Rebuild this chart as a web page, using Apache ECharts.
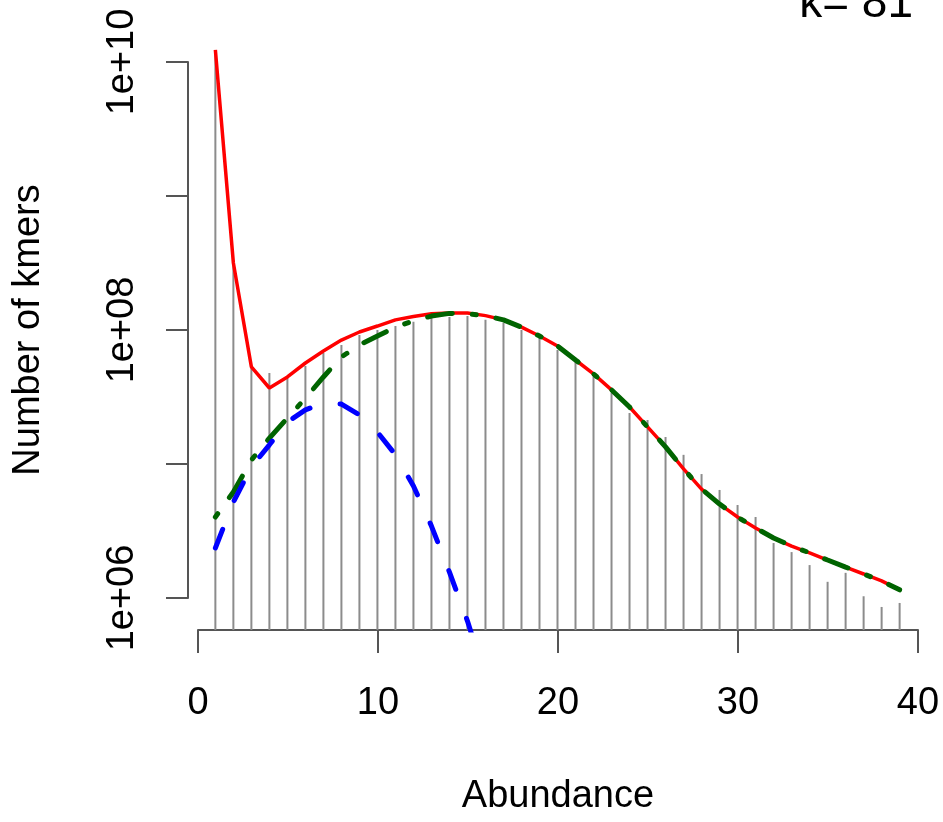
<!DOCTYPE html>
<html><head><meta charset="utf-8">
<script src="https://cdn.jsdelivr.net/npm/echarts@6/dist/echarts.min.js"></script>
<style>html,body{margin:0;padding:0;background:#fff}#c{width:943px;height:822px}</style>
</head><body><div id="c"></div>
<script>
// Abundance values (x)
const abundance = [1,2,3,4,5,6,7,8,9,10,11,12,13,14,15,16,17,18,19,20,21,22,23,24,25,26,27,28,29,30,31,32,33,34,35,36,37,38,39];
// Observed k-mer counts (grey spikes)
const kmerCounts = [1.23e10,3.33e8,5.30e7,4.78e7,4.46e7,5.38e7,6.73e7,7.73e7,9.18e7,1.00e8,1.07e8,1.15e8,1.23e8,1.25e8,1.27e8,1.19e8,1.13e8,1.00e8,8.71e7,7.10e7,5.77e7,4.46e7,3.39e7,2.40e7,2.13e7,1.59e7,1.17e7,8.41e6,6.40e6,4.94e6,4.02e6,2.57e6,2.20e6,1.76e6,1.32e6,1.54e6,1.03e6,8.57e5,9.18e5];
// Full model fit (red)
const fitTotal = [1.23e10,3.16e8,5.30e7,3.69e7,4.46e7,5.67e7,6.97e7,8.41e7,9.66e7,1.07e8,1.19e8,1.26e8,1.32e8,1.34e8,1.34e8,1.28e8,1.19e8,1.05e8,9.02e7,7.60e7,5.97e7,4.70e7,3.57e7,2.66e7,1.89e7,1.34e7,9.18e6,6.50e6,5.02e6,4.02e6,3.33e6,2.80e6,2.44e6,2.17e6,1.92e6,1.70e6,1.51e6,1.34e6,1.15e6];
// Second peak component (green, dash-dot)
const fitPeak2 = [4.02e6,6.18e6,1.07e7,1.56e7,2.20e7,3.10e7,4.46e7,6.29e7,7.73e7,9.02e7,1.05e8,1.17e8,1.27e8,1.33e8,1.32e8,1.28e8,1.19e8,1.05e8,9.02e7,7.60e7,5.97e7,4.70e7,3.57e7,2.66e7,1.89e7,1.34e7,9.18e6,6.50e6,5.02e6,4.02e6,3.33e6,2.80e6,2.44e6,2.17e6,1.92e6,1.70e6,1.51e6,1.34e6,1.15e6];
// First peak component (blue, dashed)
const peak1X = [1,2,3,4,5,6,7,8,9,10,11,12,13,14,15,16];
const fitPeak1 = [2.36e6,5.20e6,9.50e6,1.39e7,2.06e7,2.53e7,2.85e7,2.80e7,2.32e7,1.73e7,1.17e7,6.85e6,3.44e6,1.56e6,6.73e5,2.53e5];
// Axis ticks
const xTicks = [0,10,20,30,40];
const yTickExponents = [6,7,8,9,10];

const FONT = 'Liberation Sans';
const FS = 38;
const pairs = (xs, ys) => xs.map((x, i) => [x, ys[i]]);

const chart = echarts.init(document.getElementById('c'), null, {renderer: 'canvas'});
const axisCol = '#555';

chart.setOption({
  animation: false,
  backgroundColor: '#fff',
  title: {
    text: 'k= 81', right: 25, top: -24,
    textStyle: {fontFamily: FONT, fontSize: 46, fontWeight: 'normal', color: '#000'}
  },
  grid: [
    {left: 188, top: 27, width: 739, height: 603},
    {left: 198, top: 27, width: 720, height: 603},
    {left: 188, top: 62, width: 739, height: 536}
  ],
  xAxis: [
    {gridIndex: 0, type: 'value', min: -0.52, max: 40.52, show: false},
    {gridIndex: 1, type: 'value', min: xTicks[0], max: xTicks[xTicks.length - 1], interval: 10,
     axisLine: {onZero: false, lineStyle: {color: axisCol, width: 2}},
     axisTick: {length: 23, lineStyle: {color: axisCol, width: 2}},
     splitLine: {show: false},
     axisLabel: {fontFamily: FONT, fontSize: FS, color: '#000', margin: 55},
     name: 'Abundance', nameLocation: 'middle', nameGap: 148,
     nameTextStyle: {fontFamily: FONT, fontSize: FS, color: '#000'}},
    {gridIndex: 2, type: 'value', min: 0, max: 1, show: false}
  ],
  yAxis: [
    {gridIndex: 0, type: 'log', logBase: 10, min: Math.pow(10, 5.761), max: Math.pow(10, 10.261), show: false},
    {gridIndex: 1, type: 'value', show: false},
    {gridIndex: 2, type: 'value', min: yTickExponents[0], max: yTickExponents[yTickExponents.length - 1], interval: 1,
     axisLine: {show: true, onZero: false, lineStyle: {color: axisCol, width: 2}},
     axisTick: {show: true, length: 22, lineStyle: {color: axisCol, width: 2}},
     splitLine: {show: false},
     axisLabel: {rotate: 90, fontFamily: FONT, fontSize: FS, color: '#000', margin: 46,
       formatter: v => (v % 2 === 0 ? '1e+' + String(v).padStart(2, '0') : '')},
     name: 'Number of kmers', nameLocation: 'middle', nameGap: 140,
     nameTextStyle: {fontFamily: FONT, fontSize: FS, color: '#000'}}
  ],
  series: [
    {
      type: 'custom', xAxisIndex: 0, yAxisIndex: 0, z: 1,
      data: pairs(abundance, kmerCounts),
      renderItem: (params, api) => {
        const top = api.coord([api.value(0), api.value(1)]);
        const bottom = params.coordSys.y + params.coordSys.height;
        return {type: 'line', shape: {x1: top[0], y1: top[1], x2: top[0], y2: bottom},
                style: {stroke: '#8c8c8c', lineWidth: 2}};
      }
    },
    {type: 'line', xAxisIndex: 0, yAxisIndex: 0, z: 2, data: pairs(abundance, fitTotal),
     showSymbol: false, symbol: 'none', lineStyle: {color: '#ff0000', width: 3.5}},
    {type: 'line', xAxisIndex: 0, yAxisIndex: 0, z: 3, data: pairs(abundance, fitPeak2),
     showSymbol: false, symbol: 'none',
     lineStyle: {color: '#006400', width: 5, type: [4, 20, 25, 20], cap: 'round'}},
    {type: 'line', xAxisIndex: 0, yAxisIndex: 0, z: 4, data: pairs(peak1X, fitPeak1),
     showSymbol: false, symbol: 'none',
     lineStyle: {color: '#0000ff', width: 5, type: [20, 31], cap: 'round'}}
  ]
});
</script></body></html>
